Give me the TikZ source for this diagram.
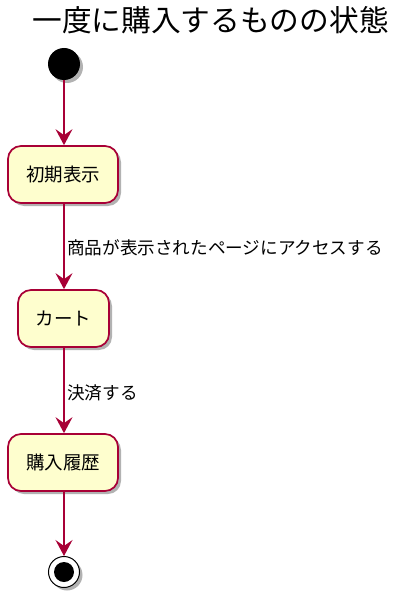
\documentclass[tikz,border=0pt]{standalone}
\usepackage{fontspec}
\setmainfont{Noto Sans CJK JP}
\usetikzlibrary{arrows.meta,shadows}
\definecolor{pumlred}{HTML}{A80036}
\definecolor{pumlfill}{HTML}{FEFECE}
\tikzset{
  x=1pt,y=1pt,
  shad/.style={drop shadow={shadow xshift=3pt,shadow yshift=-3pt,fill=black,opacity=0.3}},
  statebox/.style={draw=pumlred,line width=1.7pt,fill=pumlfill,rounded corners=13pt,
     minimum height=57pt,inner sep=0pt,font=\fontsize{18.5}{22}\selectfont,shad},
  flow/.style={draw=pumlred,line width=1.1pt,-{Stealth[length=16pt,width=17pt,inset=6pt]}},
  lbl/.style={anchor=west,inner sep=0pt,font=\fontsize{17.6}{20}\selectfont},
}
\begin{document}
\begin{tikzpicture}
\useasboundingbox (0,0) rectangle (400,-604);
\node[font=\fontsize{29.7}{34}\selectfont,inner sep=0pt] (title) at (210.5,-20) {一度に購入するものの状態};
\node[circle,fill=black,minimum size=32pt,inner sep=0pt,shad] (start) at (64,-64) {};
\node[statebox,minimum width=110pt] (init) at (63,-174.5) {初期表示};
\node[statebox,minimum width=91pt] (cart) at (63.5,-318.5) {カート};
\node[statebox,minimum width=110pt] (hist) at (63,-462.5) {購入履歴};
\node[circle,draw=black,line width=1pt,fill=white,minimum size=31pt,inner sep=0pt,shad] (end) at (64,-572) {};
\fill[black] (end.center) circle (10pt);
\coordinate (l1) at (67,-248);
\coordinate (l2) at (67,-393);
\draw[flow] (start.south) -- (start.south |- init.north);
\draw[flow] (init.south -| 64,0) -- (64,0 |- cart.north);
\draw[flow] (cart.south -| 64,0) -- (64,0 |- hist.north);
\draw[flow] (hist.south -| 64,0) -- (end.north);
\node[lbl] (t1) at (l1) {商品が表示されたページにアクセスする};
\node[lbl] (t2) at (l2) {決済する};
\end{tikzpicture}
\end{document}
